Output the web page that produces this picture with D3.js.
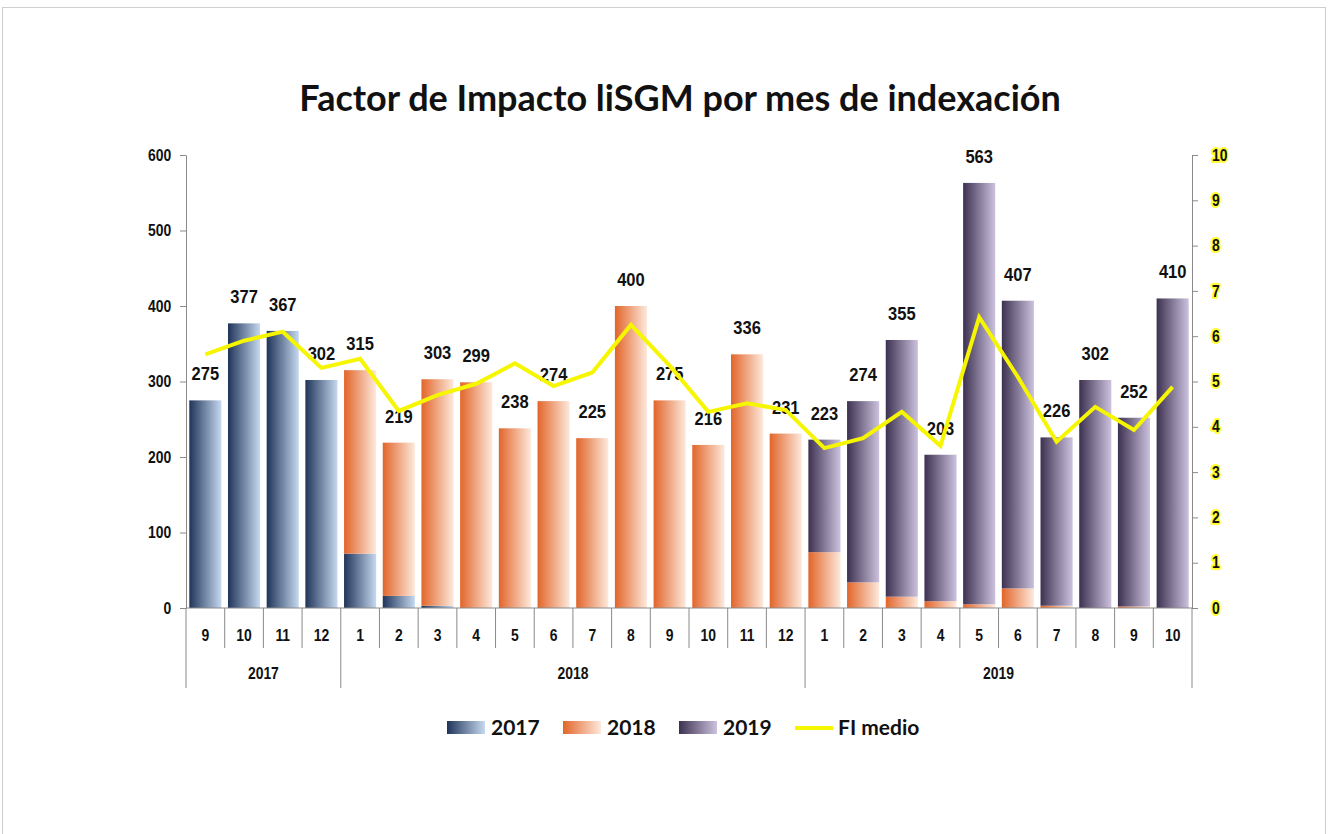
<!DOCTYPE html>
<html>
<head>
<meta charset="utf-8">
<script src="https://cdn.jsdelivr.net/npm/d3@7"></script>
<style>
  body { margin: 0; background: #fff; }
  text { font-family: "Liberation Sans", Arial, sans-serif; font-weight: bold; }
</style>
</head>
<body>
<div id="chart"></div>
<script>
// categories
const months = ['9', '10', '11', '12', '1', '2', '3', '4', '5', '6', '7', '8', '9', '10', '11', '12', '1', '2', '3', '4', '5', '6', '7', '8', '9', '10']
const yearGroups = [
  { label: '2017', start: 0, end: 4 },
  { label: '2018', start: 4, end: 16 },
  { label: '2019', start: 16, end: 26 }
]
// stacked series (portion of each bar by year)
const s2017 = [275, 377, 367, 302, 72, 16, 3, 0, 0, 0, 0, 0, 0, 0, 0, 0, 0, 0, 0, 0, 0, 0, 0, 0, 0, 0]
const s2018 = [0, 0, 0, 0, 243, 203, 300, 299, 238, 274, 225, 400, 275, 216, 336, 231, 74, 34, 15, 9, 5, 26, 3, 0, 2, 0]
const s2019 = [0, 0, 0, 0, 0, 0, 0, 0, 0, 0, 0, 0, 0, 0, 0, 0, 149, 240, 340, 194, 558, 381, 223, 302, 250, 410]
// FI medio (right axis)
const fiMedio = [5.6, 5.9, 6.1, 5.3, 5.5, 4.35, 4.7, 4.95, 5.4, 4.9, 5.2, 6.25, 5.35, 4.33, 4.52, 4.37, 3.53, 3.75, 4.33, 3.58, 6.42, 5.1, 3.67, 4.44, 3.93, 4.88]

const leftTicks = [0, 100, 200, 300, 400, 500, 600]
const rightTicks = [0, 1, 2, 3, 4, 5, 6, 7, 8, 9, 10]

let width = 1328
let height = 834
let plot = { left: 186, right: 1192, top: 155, bottom: 608 }
const narrow = 0.87 // the original uses a condensed face

let svg = d3
  .select('#chart')
  .append('svg')
  .attr('width', width)
  .attr('height', height)

// outer frame
svg.append('rect')
  .attr('x', 2.5).attr('y', 7.5)
  .attr('width', 1323).attr('height', 840)
  .attr('fill', 'none')
  .attr('stroke', '#cfcfcf')

const defs = svg.append('defs')
const grads = [
  { id: 'g2017', from: '#1f3459', to: '#c6d9f0' },
  { id: 'g2018', from: '#e2652a', to: '#fde9dc' },
  { id: 'g2019', from: '#3c3150', to: '#cdc2de' }
]
grads.forEach(g => {
  const lg = defs.append('linearGradient').attr('id', g.id)
    .attr('x1', 0).attr('x2', 1).attr('y1', 0).attr('y2', 0)
  lg.append('stop').attr('offset', '0%').attr('stop-color', g.from)
  lg.append('stop').attr('offset', '100%').attr('stop-color', g.to)
})

const x = d3.scaleBand()
  .domain(d3.range(months.length))
  .range([plot.left, plot.right])
  .paddingInner(0.17)
  .paddingOuter(0.085)

const y = d3.scaleLinear().domain([0, 600]).range([plot.bottom, plot.top])
const y2 = d3.scaleLinear().domain([0, 10]).range([plot.bottom, plot.top])

// title
svg.append('text')
  .attr('x', 680).attr('y', 111)
  .attr('text-anchor', 'middle')
  .style('font-family', 'Lato, "Open Sans", sans-serif')
  .style('font-size', '36px')
  .attr('fill', '#111')
  .text('Factor de Impacto liSGM por mes de indexación')

// stacked bars
const fills = ['url(#g2017)', 'url(#g2018)', 'url(#g2019)']
const rows = months.map((m, i) => ({ i: i, '2017': s2017[i], '2018': s2018[i], '2019': s2019[i] }))
const stack = d3.stack().keys(['2017', '2018', '2019'])(rows)

stack.forEach((layer, li) => {
  svg.append('g')
    .selectAll('rect')
    .data(layer.filter(d => d[1] > d[0]))
    .enter()
    .append('rect')
    .attr('x', d => x(d.data.i))
    .attr('width', x.bandwidth())
    .attr('y', d => y(d[1]))
    .attr('height', d => y(d[0]) - y(d[1]))
    .attr('fill', fills[li])
})

// totals above bars
const totals = rows.map(r => r['2017'] + r['2018'] + r['2019'])
svg.append('g')
  .selectAll('text')
  .data(totals)
  .enter()
  .append('text')
  .attr('transform', (d, i) => `translate(${x(i) + x.bandwidth() / 2},${y(d) - 20}) scale(${narrow},1)`)
  .attr('text-anchor', 'middle')
  .style('font-size', '19px')
  .attr('fill', '#111')
  .text(d => d)

// FI medio line
const line = d3.line()
  .x((d, i) => x(i) + x.bandwidth() / 2)
  .y(d => y2(d))

svg.append('path')
  .datum(fiMedio)
  .attr('d', line)
  .attr('fill', 'none')
  .attr('stroke', '#f6f600')
  .attr('stroke-width', 4)

// left axis
const axisColor = '#8a8a8a'
const leftAxis = svg.append('g')
  .attr('transform', `translate(${plot.left},0)`)
  .call(d3.axisLeft(y).tickValues(leftTicks).tickSizeInner(6).tickSizeOuter(0).tickPadding(11))
leftAxis.selectAll('line, path').attr('stroke', axisColor)
leftAxis.selectAll('text')
  .style('font-size', '16px').style('font-family', '"Liberation Sans", Arial, sans-serif').style('font-weight', 'bold')
  .attr('fill', '#111')
  .attr('transform', `scale(${narrow},1)`)

// right axis
const rightAxis = svg.append('g')
  .attr('transform', `translate(${plot.right},0)`)
  .call(d3.axisRight(y2).tickValues(rightTicks).tickSizeInner(6).tickSizeOuter(0).tickPadding(17))
rightAxis.selectAll('line, path').attr('stroke', axisColor)
rightAxis.selectAll('text')
  .style('font-size', '16px').style('font-family', '"Liberation Sans", Arial, sans-serif').style('font-weight', 'bold')
  .attr('fill', '#111')
  .attr('transform', `scale(${narrow},1)`)
  .attr('stroke', '#ffff33').attr('stroke-width', 4)
  .attr('paint-order', 'stroke').attr('stroke-linejoin', 'round')

// category axis
const catAxis = svg.append('g')
catAxis.append('line')
  .attr('x1', plot.left).attr('x2', plot.right)
  .attr('y1', plot.bottom).attr('y2', plot.bottom)
  .attr('stroke', axisColor)

const step = x.step()
const bounds = d3.range(months.length + 1)
const yearBounds = [0].concat(yearGroups.map(g => g.end))
catAxis.selectAll('.cat-line')
  .data(bounds)
  .enter()
  .append('line')
  .attr('class', 'cat-line')
  .attr('x1', d => plot.left + d * step)
  .attr('x2', d => plot.left + d * step)
  .attr('y1', plot.bottom)
  .attr('y2', d => yearBounds.includes(d) ? 688 : 648)
  .attr('stroke', axisColor)

catAxis.selectAll('.month')
  .data(months)
  .enter()
  .append('text')
  .attr('class', 'month')
  .attr('transform', (d, i) => `translate(${x(i) + x.bandwidth() / 2},641) scale(${narrow},1)`)
  .attr('text-anchor', 'middle')
  .style('font-size', '16px')
  .attr('fill', '#111')
  .text(d => d)

catAxis.selectAll('.year')
  .data(yearGroups)
  .enter()
  .append('text')
  .attr('class', 'year')
  .attr('transform', d => `translate(${plot.left + (d.start + d.end) / 2 * step},679) scale(${narrow},1)`)
  .attr('text-anchor', 'middle')
  .style('font-size', '16px')
  .attr('fill', '#111')
  .text(d => d.label)

// legend
const legend = svg.append('g').attr('transform', 'translate(0,728)')
const legendItems = [
  { label: '2017', fill: 'url(#g2017)', x: 447 },
  { label: '2018', fill: 'url(#g2018)', x: 563 },
  { label: '2019', fill: 'url(#g2019)', x: 679 }
]
legendItems.forEach(it => {
  legend.append('rect')
    .attr('x', it.x).attr('y', -7)
    .attr('width', 38).attr('height', 13)
    .attr('fill', it.fill)
  legend.append('text')
    .attr('x', it.x + 44).attr('y', 7)
    .style('font-family', 'Lato, "Open Sans", sans-serif')
    .style('font-size', '21px')
    .attr('fill', '#111')
    .text(it.label)
})
legend.append('line')
  .attr('x1', 795).attr('x2', 833)
  .attr('y1', 0).attr('y2', 0)
  .attr('stroke', '#f6f600').attr('stroke-width', 4)
legend.append('text')
  .attr('x', 838).attr('y', 7)
  .style('font-family', 'Lato, "Open Sans", sans-serif')
  .style('font-size', '21px')
  .attr('fill', '#111')
  .text('FI medio')
</script>
</body>
</html>
